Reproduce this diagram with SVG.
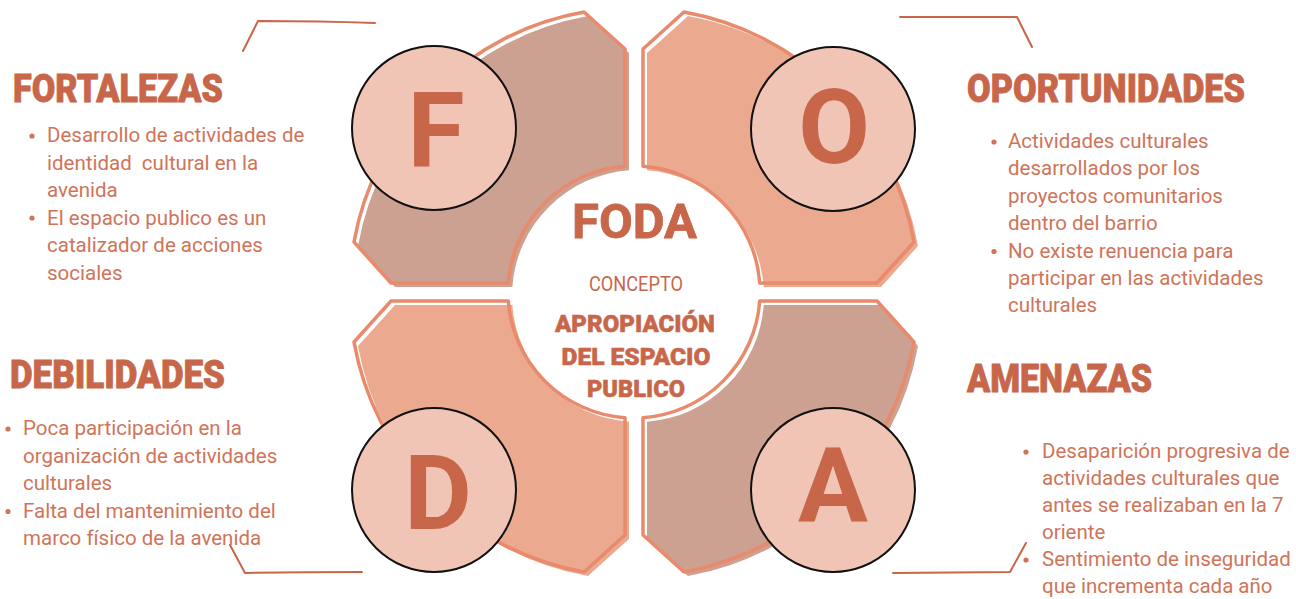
<svg xmlns="http://www.w3.org/2000/svg" xmlns:xlink="http://www.w3.org/1999/xlink" width="1296" height="599" viewBox="0 0 1296 599">
<style>
.outline{fill:none;stroke:#e88a6b;stroke-width:3.5;stroke-linejoin:round}
.fillA{fill:#cca191}
.fillB{fill:#eba98f}
.badge{fill:#f0c5b6;stroke:#111;stroke-width:2}
.big{font-family:Roboto,"Liberation Sans",sans-serif;font-weight:700;font-size:104px;fill:#c8664a;text-anchor:middle}
.head{font-family:Roboto,"Liberation Sans",sans-serif;font-weight:900;font-size:38px;fill:#c8664a;stroke:#c8664a;stroke-width:0.8}
.body{font-family:Roboto,"Liberation Sans",sans-serif;font-size:20.5px;fill:#cf7459}
.bul{fill:#cf7459}
.ctr{font-family:Roboto,"Liberation Sans",sans-serif;fill:#c8664a;text-anchor:middle}
.brk{fill:none;stroke:#c8664a;stroke-width:2;stroke-linecap:round;stroke-linejoin:round}
</style>
<defs>
<path id="piece" d="M -50,-280 L -9,-243 L -9,-125.7 A 126 126 0 0 0 -125.7,-9 L -243,-9 L -280,-50 A 284 284 0 0 1 -50,-280 Z"/>
</defs>
<rect width="1296" height="599" fill="#ffffff"/>

<g id="ring" transform="translate(634,292)">
  <g id="piece-f">
    <use xlink:href="#piece" href="#piece" class="fillA" transform="translate(4,4)"/>
    <use xlink:href="#piece" href="#piece" class="outline"/>
  </g>
  <g id="piece-o">
    <use xlink:href="#piece" href="#piece" class="fillB" transform="translate(4,4) scale(-1,1)"/>
    <use xlink:href="#piece" href="#piece" class="outline" transform="scale(-1,1)"/>
  </g>
  <g id="piece-d">
    <use xlink:href="#piece" href="#piece" class="fillB" transform="translate(4,4) scale(1,-1)"/>
    <use xlink:href="#piece" href="#piece" class="outline" transform="scale(1,-1)"/>
  </g>
  <g id="piece-a">
    <use xlink:href="#piece" href="#piece" class="fillA" transform="translate(4,4) scale(-1,-1)"/>
    <use xlink:href="#piece" href="#piece" class="outline" transform="scale(-1,-1)"/>
  </g>
</g>

<g id="node-f">
  <circle class="badge" cx="434" cy="128" r="82"/>
  <text class="big" x="436" y="166">F</text>
</g>
<g id="node-o">
  <circle class="badge" cx="833" cy="129" r="82"/>
  <text class="big" x="834" y="163">O</text>
</g>
<g id="node-d">
  <circle class="badge" cx="434" cy="490" r="82"/>
  <text class="big" x="438" y="529">D</text>
</g>
<g id="node-a">
  <circle class="badge" cx="833" cy="490" r="82"/>
  <text class="big" x="833" y="522">A</text>
</g>

<g id="center">
  <text class="ctr" x="634.5" y="238" font-size="49" font-weight="700" stroke="#c8664a" stroke-width="0.8" textLength="125" lengthAdjust="spacingAndGlyphs">FODA</text>
  <text class="ctr" x="636" y="291" font-size="20" font-weight="400" textLength="94" lengthAdjust="spacingAndGlyphs">CONCEPTO</text>
  <text class="ctr" x="635" y="332" font-size="24" font-weight="900" stroke="#c8664a" stroke-width="0.5" textLength="160" lengthAdjust="spacingAndGlyphs">APROPIACIÓN</text>
  <text class="ctr" x="636" y="365" font-size="24" font-weight="900" stroke="#c8664a" stroke-width="0.5" textLength="149" lengthAdjust="spacingAndGlyphs">DEL ESPACIO</text>
  <text class="ctr" x="636" y="397" font-size="24" font-weight="900" stroke="#c8664a" stroke-width="0.5" textLength="98" lengthAdjust="spacingAndGlyphs">PUBLICO</text>
</g>

<g id="connectors">
  <path class="brk" d="M 243,51 L 258,21 Q 320,21 375,23"/>
  <path class="brk" d="M 900,17 L 1017,17 L 1032,47"/>
  <path class="brk" d="M 230,545 L 245,573 Q 300,572 362,572"/>
  <path class="brk" d="M 893,573 L 1010,572 L 1026,543"/>
</g>

<g id="fortalezas">
  <text class="head" x="13" y="102" textLength="210" lengthAdjust="spacingAndGlyphs">FORTALEZAS</text>
  <circle class="bul" cx="32" cy="136" r="2.6"/>
  <circle class="bul" cx="32" cy="218" r="2.6"/>
  <text class="body" x="47" y="142">Desarrollo de actividades de</text>
  <text class="body" x="47" y="169.5" xml:space="preserve">identidad  cultural en la</text>
  <text class="body" x="47" y="197">avenida</text>
  <text class="body" x="47" y="224.5">El espacio publico es un</text>
  <text class="body" x="47" y="252">catalizador de acciones</text>
  <text class="body" x="47" y="279.5">sociales</text>
</g>

<g id="oportunidades">
  <text class="head" x="967" y="102" textLength="278" lengthAdjust="spacingAndGlyphs">OPORTUNIDADES</text>
  <circle class="bul" cx="994" cy="142" r="2.6"/>
  <circle class="bul" cx="994" cy="251.5" r="2.6"/>
  <text class="body" x="1008" y="148">Actividades culturales</text>
  <text class="body" x="1008" y="175.4">desarrollados por los</text>
  <text class="body" x="1008" y="202.8">proyectos comunitarios</text>
  <text class="body" x="1008" y="230.2">dentro del barrio</text>
  <text class="body" x="1008" y="257.6">No existe renuencia para</text>
  <text class="body" x="1008" y="285">participar en las actividades</text>
  <text class="body" x="1008" y="312.4">culturales</text>
</g>

<g id="debilidades">
  <text class="head" x="10" y="388" textLength="215" lengthAdjust="spacingAndGlyphs">DEBILIDADES</text>
  <circle class="bul" cx="8" cy="429" r="2.6"/>
  <circle class="bul" cx="8" cy="511.5" r="2.6"/>
  <text class="body" x="23" y="435">Poca participación en la</text>
  <text class="body" x="23" y="462.5">organización de actividades</text>
  <text class="body" x="23" y="490">culturales</text>
  <text class="body" x="23" y="517.5">Falta del mantenimiento del</text>
  <text class="body" x="23" y="545">marco físico de la avenida</text>
</g>

<g id="amenazas">
  <text class="head" x="967" y="392" textLength="185" lengthAdjust="spacingAndGlyphs">AMENAZAS</text>
  <circle class="bul" cx="1026" cy="452" r="2.6"/>
  <circle class="bul" cx="1026" cy="560" r="2.6"/>
  <text class="body" x="1042" y="458">Desaparición progresiva de</text>
  <text class="body" x="1042" y="485">actividades culturales que</text>
  <text class="body" x="1042" y="512">antes se realizaban en la 7</text>
  <text class="body" x="1042" y="539">oriente</text>
  <text class="body" x="1042" y="566">Sentimiento de inseguridad</text>
  <text class="body" x="1042" y="593">que incrementa cada año</text>
</g>
</svg>
